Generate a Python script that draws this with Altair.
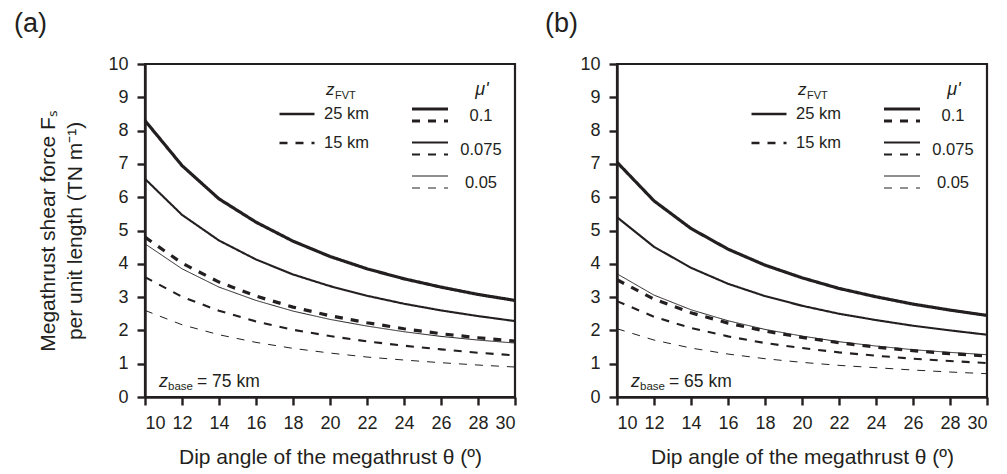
import altair as alt
import pandas as pd

# ---------------- data ----------------
theta = [10, 12, 14, 16, 18, 20, 22, 24, 26, 28, 30]
mu_values = [0.1, 0.075, 0.05]
z_labels = ["25 km", "15 km"]

# panel (a): z_base = 75 km
a_z25_mu100 = [8.30, 6.95, 5.95, 5.25, 4.68, 4.22, 3.85, 3.55, 3.30, 3.08, 2.90]
a_z25_mu075 = [6.55, 5.47, 4.70, 4.13, 3.68, 3.33, 3.04, 2.80, 2.60, 2.43, 2.28]
a_z25_mu050 = [4.60, 3.85, 3.30, 2.90, 2.58, 2.33, 2.13, 1.96, 1.82, 1.71, 1.62]
a_z15_mu100 = [4.80, 4.02, 3.45, 3.03, 2.70, 2.44, 2.23, 2.05, 1.90, 1.78, 1.68]
a_z15_mu075 = [3.60, 3.01, 2.59, 2.27, 2.02, 1.83, 1.67, 1.54, 1.43, 1.33, 1.25]
a_z15_mu050 = [2.60, 2.17, 1.87, 1.64, 1.46, 1.32, 1.20, 1.11, 1.03, 0.96, 0.90]

# panel (b): z_base = 65 km
b_z25_mu100 = [7.05, 5.89, 5.06, 4.44, 3.96, 3.58, 3.26, 3.01, 2.79, 2.61, 2.45]
b_z25_mu075 = [5.40, 4.51, 3.88, 3.40, 3.03, 2.74, 2.50, 2.31, 2.14, 2.00, 1.87]
b_z25_mu050 = [3.70, 3.06, 2.62, 2.29, 2.03, 1.83, 1.66, 1.53, 1.42, 1.34, 1.27]
b_z15_mu100 = [3.52, 2.94, 2.53, 2.22, 1.98, 1.79, 1.63, 1.50, 1.39, 1.30, 1.23]
b_z15_mu075 = [2.88, 2.41, 2.07, 1.82, 1.62, 1.47, 1.34, 1.24, 1.15, 1.08, 1.02]
b_z15_mu050 = [2.05, 1.71, 1.47, 1.29, 1.15, 1.04, 0.95, 0.88, 0.81, 0.75, 0.70]

x_title = "Dip angle of the megathrust θ (º)"
y_title = ["Megathrust shear force Fₛ", "per unit length (TN m⁻¹)"]

INK = "#231f20"
FONT = "Liberation Sans"


def frame(series):
    rows = []
    for z, mu, vals in series:
        for t, v in zip(theta, vals):
            rows.append({"theta": t, "F": v, "z": z, "mu": mu})
    return pd.DataFrame(rows)


def txt(text, x, y, size, style="normal", align="left"):
    return alt.Chart(pd.DataFrame({"t": [text]})).mark_text(
        align=align, baseline="alphabetic", fontSize=size, fontStyle=style,
        font=FONT, color=INK
    ).encode(x=alt.value(x), y=alt.value(y), text="t:N")


def panel(df, tag, zbase, first):
    xenc = alt.X("theta:Q", scale=alt.Scale(domain=[10, 30], nice=False, zero=False),
                 axis=alt.Axis(values=theta, title=x_title))
    yaxis = dict(values=list(range(11)))
    yaxis["title"] = y_title if first else ""
    yenc = alt.Y("F:Q", scale=alt.Scale(domain=[0, 10], nice=False), axis=alt.Axis(**yaxis))

    dash = alt.StrokeDash(
        "z:N",
        scale=alt.Scale(domain=z_labels, range=[[1, 0], [8, 8]]),
        legend=alt.Legend(orient="none", legendX=133, legendY=42, title="",
                          symbolType="stroke", symbolSize=1225, symbolStrokeWidth=2.3,
                          symbolStrokeColor=INK, clipHeight=16, rowPadding=12,
                          labelFont=FONT, labelFontSize=16.5, labelColor=INK,
                          labelOffset=8, labelBaseline="middle", padding=0),
    )
    sw_scale = alt.Scale(domain=[0.05, 0.1], range=[1.0, 3.2])
    sw_solid = alt.StrokeWidth(
        "mu:Q", scale=sw_scale,
        legend=alt.Legend(orient="none", legendX=265, legendY=32, title="",
                          values=mu_values, symbolType="stroke", symbolSize=1296,
                          symbolStrokeColor=INK, clipHeight=26, rowPadding=7.5,
                          labelExpr="''", padding=0),
    )
    sw_dashed = alt.StrokeWidth(
        "mu:Q", scale=sw_scale,
        legend=alt.Legend(orient="none", legendX=265, legendY=44, title="",
                          values=mu_values, symbolType="stroke", symbolSize=1296,
                          symbolDash=[8, 8], symbolStrokeColor=INK, clipHeight=26,
                          rowPadding=7.5, format=".3~f", labelFont=FONT,
                          labelFontSize=16.5, labelColor=INK, labelAlign="center",
                          labelOffset=31, labelBaseline="alphabetic", padding=0),
    )

    solid = alt.Chart(df[df["z"] == "25 km"]).mark_line(color=INK).encode(
        x=xenc, y=yenc, strokeDash=dash, strokeWidth=sw_solid, detail="mu:N")
    dashed = alt.Chart(df[df["z"] == "15 km"]).mark_line(color=INK).encode(
        x=xenc, y=yenc, strokeDash=dash, strokeWidth=sw_dashed, detail="mu:N")

    texts = [
        txt(tag, -131 if first else -72, -32, 27),
        txt("z", 14, 323, 18, "italic"),
        txt("base", 23, 326, 11.5),
        txt(zbase, 52, 323, 17.5),
        txt("z", 181, 31, 17, "italic"),
        txt("FVT", 190, 35, 11),
        txt("μ'", 337, 31, 18, "italic", "center"),
    ]
    return alt.layer(solid, dashed, *texts).resolve_scale(strokeWidth="independent").properties(
        width=370, height=333)


df_a = frame([
    ("25 km", 0.1, a_z25_mu100), ("25 km", 0.075, a_z25_mu075), ("25 km", 0.05, a_z25_mu050),
    ("15 km", 0.1, a_z15_mu100), ("15 km", 0.075, a_z15_mu075), ("15 km", 0.05, a_z15_mu050),
])
df_b = frame([
    ("25 km", 0.1, b_z25_mu100), ("25 km", 0.075, b_z25_mu075), ("25 km", 0.05, b_z25_mu050),
    ("15 km", 0.1, b_z15_mu100), ("15 km", 0.075, b_z15_mu075), ("15 km", 0.05, b_z15_mu050),
])

pa = panel(df_a, "(a)", "= 75 km", True)
pb = panel(df_b, "(b)", "= 65 km", False)

chart = alt.hconcat(pa, pb, spacing=102, bounds="flush").resolve_scale(
    strokeWidth="independent", strokeDash="independent"
).properties(
    padding={"left": 4, "top": 0, "right": 0, "bottom": 0}
).configure_view(
    stroke=INK, strokeWidth=2.2
).configure_axis(
    domainColor=INK, domainWidth=2.4, tickColor=INK, tickWidth=2.4, tickSize=8,
    labelFont=FONT, labelFontSize=18, labelColor=INK, labelPadding=9,
    titleFont=FONT, titleFontSize=21, titleFontWeight="normal", titleColor=INK,
    titlePadding=14, titleLineHeight=27, grid=False,
).configure_axisY(
    titlePadding=22
)

chart.save("out.html", embed_options={"renderer": "svg", "actions": False})
